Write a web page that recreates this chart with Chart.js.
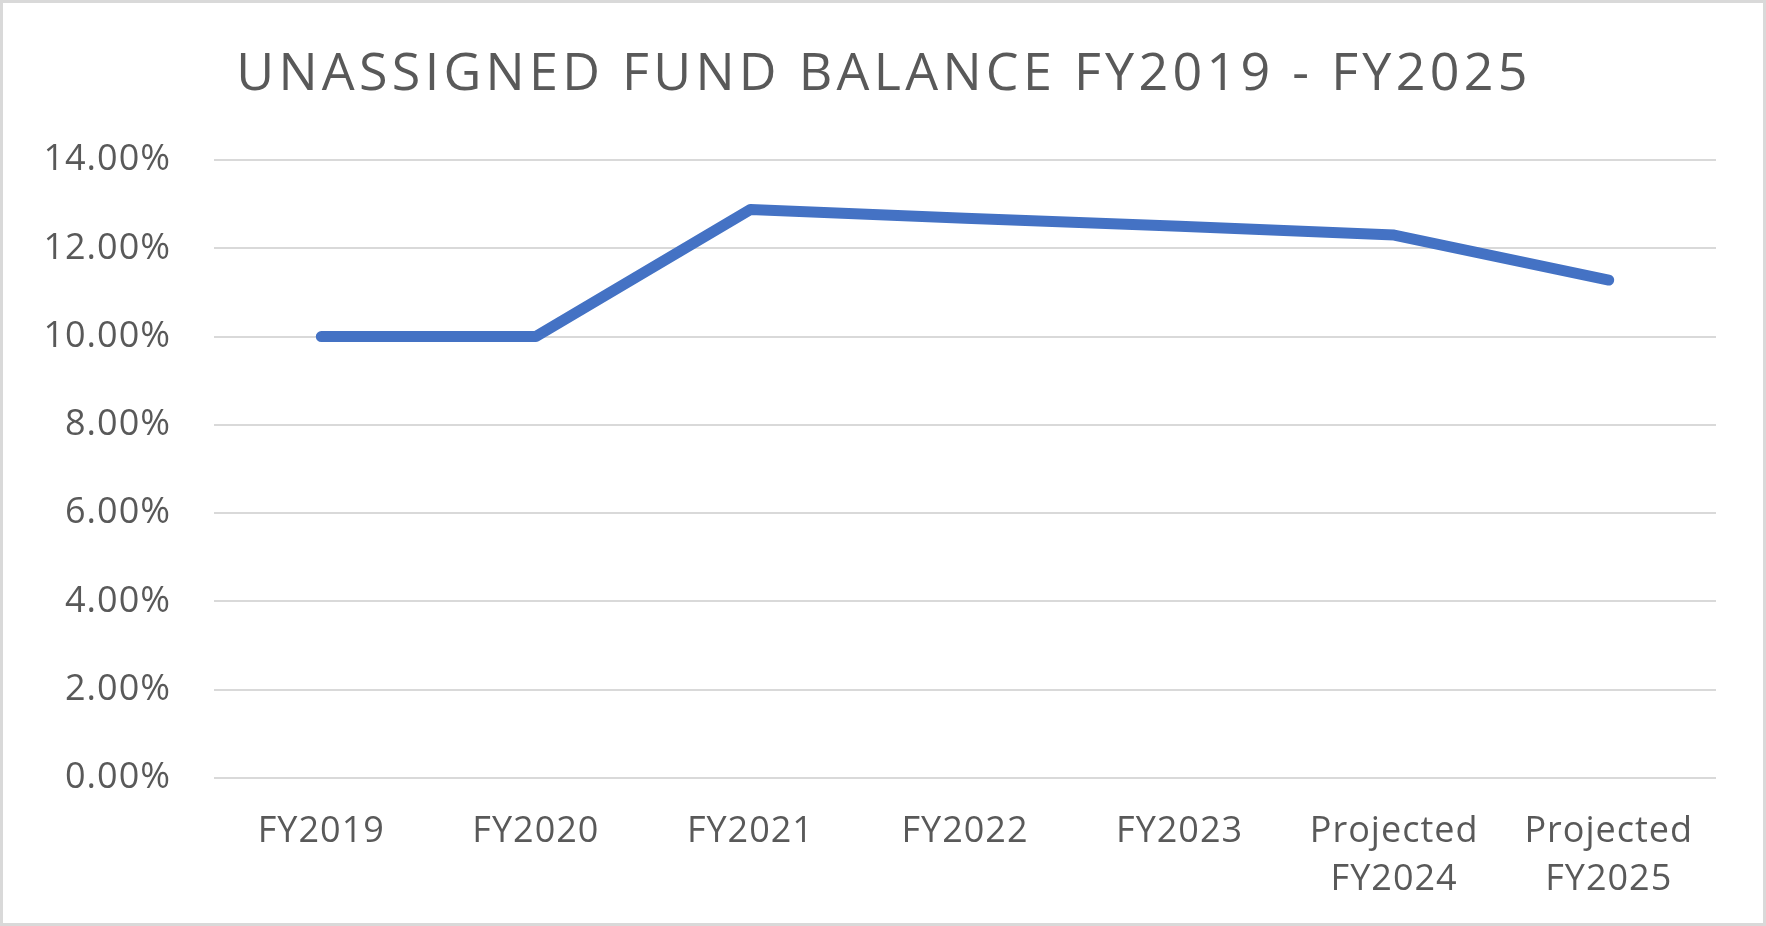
<!DOCTYPE html>
<html>
<head>
<meta charset="utf-8">
<script src="https://cdn.jsdelivr.net/npm/chart.js@4.4.0/dist/chart.umd.min.js"></script>
<style>
  body { margin: 0; background: #fff; }
  #wrap { position: relative; width: 1766px; height: 926px; }
  #frame { position: absolute; left: 0; top: 0; width: 1766px; height: 926px; box-sizing: border-box; border: 3px solid #d9d9d9; pointer-events: none; }
</style>
</head>
<body>
<div id="wrap">
  <canvas id="myChart" width="1766" height="926"></canvas>
  <div id="frame"></div>
</div>
<script>
// data
const categories = ["FY2019", "FY2020", "FY2021", "FY2022", "FY2023", ["Projected", "FY2024"], ["Projected", "FY2025"]];
const balancePct = [10.0, 10.0, 12.88, 12.68, 12.5, 12.3, 11.28];
const yTickMin = 0;
const yTickMax = 14;
const yTickStep = 2;
const chartTitle = 'UNASSIGNED FUND BALANCE FY2019 - FY2025';

const textColor = '#595959';
const gridColor = '#d9d9d9';

// excel-ish spaced out title, drawn after the chart
const titlePlugin = {
    id: 'spacedTitle',
    beforeDraw(chart) {
        chart.ctx.letterSpacing = '1px';
    },
    afterDraw(chart) {
        const c = chart.ctx;
        c.save();
        c.letterSpacing = '4.3px';
        c.font = '52px "Open Sans"';
        c.fillStyle = textColor;
        c.textAlign = 'center';
        c.textBaseline = 'alphabetic';
        c.fillText(chartTitle, chart.width / 2 + 1, 90);
        c.restore();
    }
};

const ctx = document.getElementById('myChart');
ctx.getContext('2d').letterSpacing = '1px';
const chartInstance = new Chart(ctx, {
    type: 'line',
    data: {
        labels: categories,
        datasets: [{
            label: 'Unassigned Fund Balance',
            data: balancePct,
            borderColor: '#4472c4',
            borderWidth: 11,
            borderCapStyle: 'round',
            borderJoinStyle: 'round',
            pointRadius: 0,
            tension: 0,
            fill: false
        }]
    },
    plugins: [titlePlugin],
    options: {
        responsive: false,
        animation: false,
        layout: {
            padding: { left: 0, right: 50, top: 160, bottom: 20 }
        },
        plugins: {
            legend: { display: false },
            tooltip: { enabled: false },
            title: { display: false }
        },
        scales: {
            x: {
                offset: true,
                grid: { display: false, drawTicks: false },
                border: { display: false },
                ticks: {
                    color: textColor,
                    font: { family: 'Open Sans', size: 36, lineHeight: 1.35 },
                    padding: 29,
                    maxRotation: 0,
                    autoSkip: false
                },
                afterFit: (scale) => { scale.height = 128; }
            },
            y: {
                min: yTickMin,
                max: yTickMax,
                grid: { color: gridColor, lineWidth: 2, drawTicks: false },
                border: { display: false },
                ticks: {
                    stepSize: yTickStep,
                    color: textColor,
                    font: { family: 'Open Sans', size: 36 },
                    padding: 43,
                    callback: (v) => v.toFixed(2) + '%'
                },
                afterFit: (scale) => { scale.width = 214; }
            }
        }
    }
});
</script>
</body>
</html>
